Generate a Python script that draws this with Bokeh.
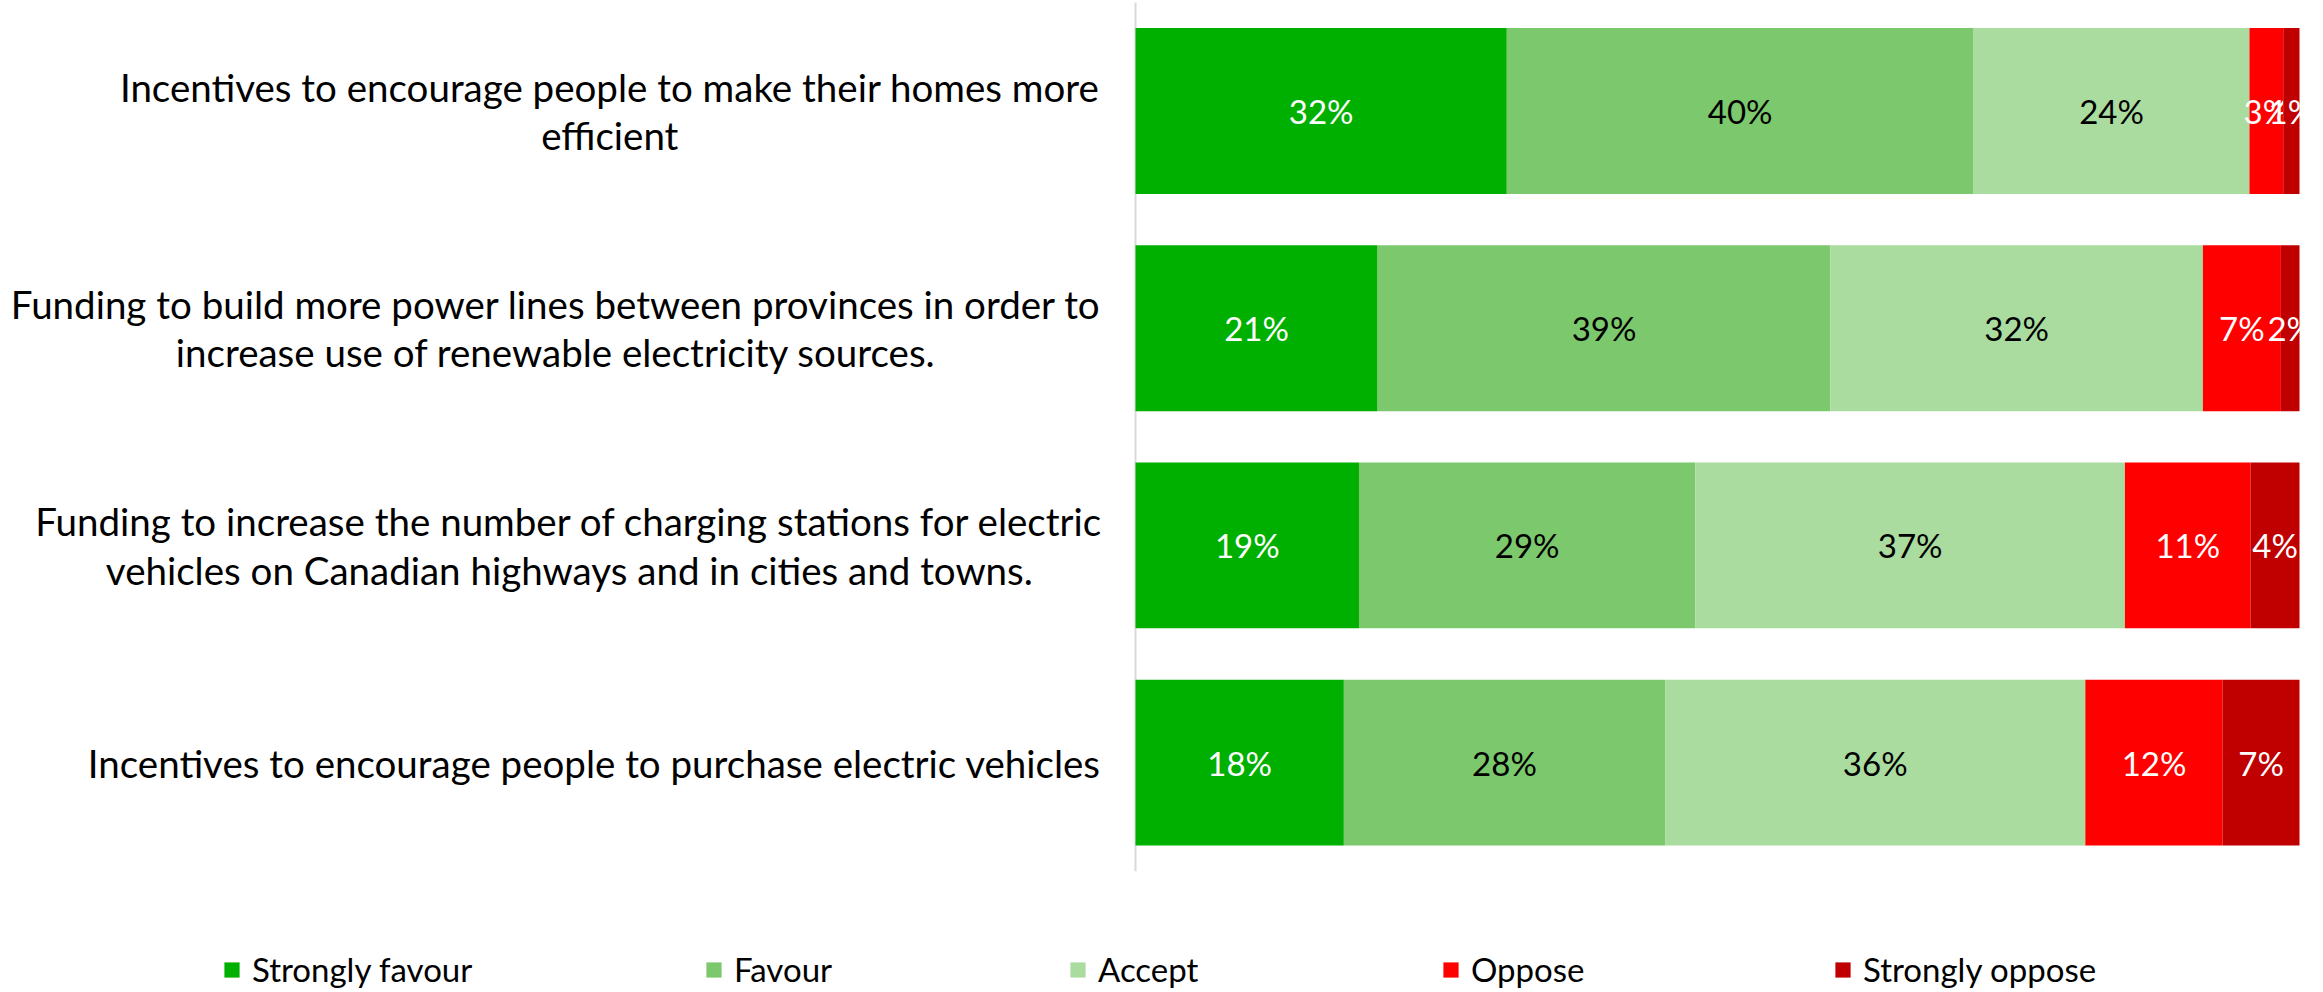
from bokeh.plotting import figure
from bokeh.models import Range1d, ColumnDataSource, Legend, LegendItem
from bokeh.core.properties import value
from bokeh.embed import file_html
from bokeh.resources import INLINE

# ---------------- data ----------------
categories = [
    "Incentives to encourage people to make their homes more\nefficient",
    "Funding to build more power lines between provinces in order to\nincrease use of renewable electricity sources.",
    "Funding to increase the number of charging stations for electric\nvehicles on Canadian highways and in cities and towns.",
    "Incentives to encourage people to purchase electric vehicles",
]
series_names = ["Strongly favour", "Favour", "Accept", "Oppose", "Strongly oppose"]
strongly_favour = [31.9, 20.8, 19.2, 17.9]
favour = [40.1, 38.9, 28.9, 27.6]
accept = [23.7, 32.0, 36.9, 36.1]
oppose = [2.9, 6.7, 10.8, 11.8]
strongly_oppose = [1.4, 1.6, 4.2, 6.6]
series_values = [strongly_favour, favour, accept, oppose, strongly_oppose]

# ---------------- style ----------------
colors = ["#00B000", "#7CC86C", "#AADCA0", "#FF0000", "#C00000"]
label_colors = ["#FFFFFF", "#000000", "#000000", "#FFFFFF", "#FFFFFF"]
FONT = "Lato"
legend_x_px = [222, 704, 1068, 1441, 1833]   # layout: left edge of each legend entry

W, H = 2323, 992
axis_px = 1135.0          # x = 0 in figure pixels
full_px = 2299.0          # x = 100 in figure pixels
ppu = (full_px - axis_px) / 100.0
x_start = -axis_px / ppu
x_end = 100 + (W - full_px) / ppu

row0_px = 110.5           # centre of first row, figure pixels from top
row_step = 217.2
y_top = -row0_px / row_step
y_bottom = (H - row0_px) / row_step

p = figure(width=W, height=H, output_backend="svg", toolbar_location=None,
           x_range=Range1d(x_start, x_end), y_range=Range1d(y_bottom, y_top),
           x_axis_location=None, y_axis_location=None,
           min_border=0, min_border_left=0, min_border_right=0,
           min_border_top=0, min_border_bottom=0)
p.outline_line_color = None
p.xgrid.visible = False
p.ygrid.visible = False
p.background_fill_color = "white"
p.border_fill_color = "white"

n = len(categories)
ys = list(range(n))

# axis line
p.segment(x0=[0], y0=[-0.5], x1=[0], y1=[n - 0.5], line_color="#D9D9D9", line_width=2)

legend_items = []
left = [0.0] * n
for name, vals, col, lcol in zip(series_names, series_values, colors, label_colors):
    right = [l + v for l, v in zip(left, vals)]
    src = ColumnDataSource(dict(
        y=ys, left=left, right=right,
        mid=[(l + r) / 2 for l, r in zip(left, right)],
        lab=[f"{round(v)}%" for v in vals],
    ))
    r = p.hbar(y="y", left="left", right="right", height=0.764, source=src,
               fill_color=col, line_color=None)
    p.text(x="mid", y="y", text="lab", source=src, text_align="center",
           text_baseline="middle", text_color=lcol, text_font=value(FONT),
           text_font_size="33px")
    legend_items.append(LegendItem(label=name, renderers=[r]))
    left = right

# approximate advance widths (em) used only to centre the label lines in their block
_w = {' ': 0.193, '.': 0.2, ',': 0.2, 'a': 0.48, 'b': 0.54, 'c': 0.45, 'd': 0.54,
      'e': 0.51, 'f': 0.31, 'g': 0.49, 'h': 0.54, 'i': 0.235, 'j': 0.235, 'k': 0.49,
      'l': 0.235, 'm': 0.82, 'n': 0.54, 'o': 0.545, 'p': 0.53, 'q': 0.54, 'r': 0.36,
      's': 0.42, 't': 0.34, 'u': 0.54, 'v': 0.5, 'w': 0.76, 'x': 0.48, 'y': 0.5,
      'z': 0.44, 'I': 0.28, 'F': 0.53, 'C': 0.64}


def text_w(s, size):
    return 1.035 * size * sum(_w.get(ch, 0.55) for ch in s)


label_font_px = 38.5
right_edge_px = 1093.0
cx, cy, ct = [], [], []
for i, c in enumerate(categories):
    w = max(text_w(s, label_font_px) for s in c.split("\n"))
    cx.append((right_edge_px - w / 2) / ppu + x_start)
    cy.append(i)
    ct.append(c)
p.text(x=cx, y=cy, text=ct, text_align="center", text_baseline="middle",
       text_color="#000000", text_font=value(FONT),
       text_font_size=f"{label_font_px}px", text_line_height=1.05)

for item, lx in zip(legend_items, legend_x_px):
    lg = Legend(items=[item], orientation="horizontal",
                location=(lx, 3), glyph_width=19, glyph_height=19,
                label_standoff=11, spacing=0, padding=0, margin=0,
                label_text_font=FONT, label_text_font_size="33px",
                label_text_color="#000000",
                border_line_color=None, background_fill_alpha=0)
    p.add_layout(lg)

open("out.html", "w").write(file_html(p, INLINE))
